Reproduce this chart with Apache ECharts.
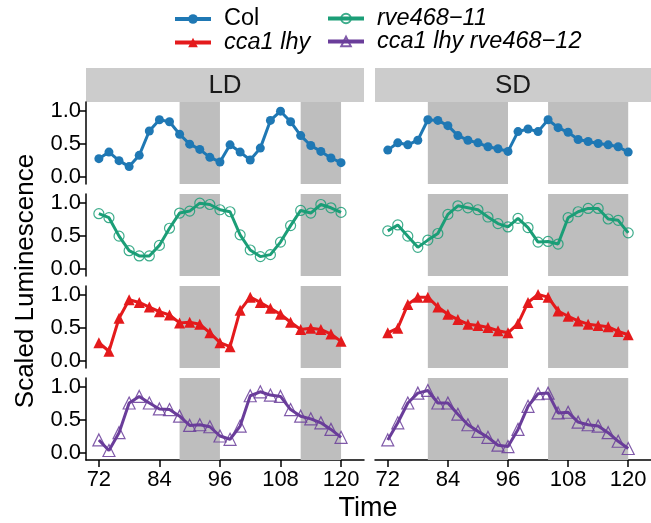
<!DOCTYPE html>
<html>
<head>
<meta charset="utf-8">
<script src="https://cdn.jsdelivr.net/npm/echarts@6/dist/echarts.min.js"></script>
<style>
  html, body { margin: 0; padding: 0; background: #fff; }
  #chart { width: 651px; height: 523px; }
</style>
</head>
<body>
<div id="chart"></div>
<script>
// sampling times (h)
const times = [72, 74, 76, 78, 80, 82, 84, 86, 88, 90, 92, 94, 96, 98, 100, 102, 104, 106, 108, 110, 112, 114, 116, 118, 120];
const xTicks = [72, 84, 96, 108, 120];
const yTicks = [0, 0.5, 1];
const conditions = ['LD', 'SD'];
const genotypes = ['Col', 'rve468\u221211', 'cca1 lhy', 'cca1 lhy rve468\u221212'];

// dark periods
const darkLD = [[88, 96], [112, 120]];
const darkSD = [[80, 96], [104, 120]];

// Col
const colLD = [0.27, 0.37, 0.24, 0.15, 0.32, 0.69, 0.86, 0.83, 0.64, 0.49, 0.41, 0.29, 0.22, 0.48, 0.37, 0.25, 0.43, 0.85, 0.99, 0.83, 0.62, 0.47, 0.38, 0.28, 0.21];
const colSD = [0.40, 0.51, 0.48, 0.55, 0.86, 0.85, 0.77, 0.62, 0.55, 0.51, 0.45, 0.42, 0.38, 0.68, 0.72, 0.68, 0.86, 0.74, 0.67, 0.56, 0.53, 0.50, 0.48, 0.45, 0.37];
// rve468-11
const rveLD = [0.83, 0.77, 0.49, 0.27, 0.19, 0.19, 0.35, 0.61, 0.84, 0.87, 0.99, 0.97, 0.89, 0.86, 0.51, 0.28, 0.18, 0.21, 0.40, 0.65, 0.88, 0.84, 0.97, 0.92, 0.85];
const rveSD = [0.57, 0.66, 0.49, 0.32, 0.43, 0.53, 0.82, 0.95, 0.92, 0.89, 0.78, 0.68, 0.63, 0.76, 0.62, 0.40, 0.41, 0.37, 0.77, 0.86, 0.91, 0.91, 0.75, 0.73, 0.54];
// cca1 lhy
const ccaLD = [0.27, 0.14, 0.64, 0.92, 0.88, 0.81, 0.74, 0.69, 0.57, 0.58, 0.55, 0.42, 0.27, 0.21, 0.76, 0.96, 0.88, 0.79, 0.70, 0.58, 0.47, 0.49, 0.47, 0.40, 0.29];
const ccaSD = [0.42, 0.49, 0.85, 0.96, 0.96, 0.81, 0.70, 0.62, 0.55, 0.53, 0.50, 0.45, 0.42, 0.56, 0.88, 1.00, 0.96, 0.75, 0.67, 0.60, 0.55, 0.53, 0.51, 0.44, 0.39];
// cca1 lhy rve468-12
const tripleLD = [0.19, 0.03, 0.30, 0.75, 0.85, 0.75, 0.66, 0.65, 0.55, 0.41, 0.42, 0.39, 0.25, 0.20, 0.40, 0.86, 0.92, 0.87, 0.85, 0.65, 0.55, 0.51, 0.45, 0.35, 0.23];
const tripleSD = [0.19, 0.45, 0.75, 0.90, 0.94, 0.75, 0.75, 0.58, 0.42, 0.32, 0.23, 0.11, 0.09, 0.35, 0.70, 0.89, 0.90, 0.60, 0.61, 0.46, 0.42, 0.40, 0.30, 0.17, 0.06];

const values = [[colLD, colSD], [rveLD, rveSD], [ccaLD, ccaSD], [tripleLD, tripleSD]];
const colors = ['#1f78b4', '#1b9e77', '#e41a1c', '#6a3d9a'];
const FONT = 'Liberation Sans, Arial, sans-serif';

let chart = echarts.init(document.getElementById('chart'));

let grids = [], xAxes = [], yAxes = [], series = [];
const colLeft = [86, 375];
const rowTop = [102, 194, 286, 378];

for (let r = 0; r < 4; r++) {
  for (let c = 0; c < 2; c++) {
    let g = grids.length;
    let bottomRow = r === 3;
    let leftCol = c === 0;
    grids.push({left: colLeft[c], top: rowTop[r], width: 278, height: 82});
    xAxes.push({
      type: 'value', gridIndex: g, min: 69.45, max: 124.55,
      splitLine: {show: false},
      axisLine: {show: bottomRow, onZero: false, lineStyle: {color: '#000', width: 1.5}},
      axisTick: {show: bottomRow, length: 7, customValues: xTicks, lineStyle: {color: '#000', width: 1.5}},
      axisLabel: {show: bottomRow, customValues: xTicks, color: '#000', fontSize: 22, fontFamily: FONT, margin: 9}
    });
    yAxes.push({
      type: 'value', gridIndex: g, min: -0.114, max: 1.129,
      splitLine: {show: false},
      axisLine: {show: leftCol, onZero: false, lineStyle: {color: '#000', width: 1.5}},
      axisTick: {show: leftCol, length: 7, customValues: yTicks, lineStyle: {color: '#000', width: 1.5}},
      axisLabel: {show: leftCol, customValues: yTicks, color: '#000', fontSize: 22, fontFamily: FONT, margin: 5,
        formatter: v => v.toFixed(1)}
    });

    // night shading
    let dark = c === 0 ? darkLD : darkSD;
    series.push({
      type: 'line', xAxisIndex: g, yAxisIndex: g, data: [], silent: true, z: 1,
      markArea: {
        silent: true,
        itemStyle: {color: '#bebebe'},
        data: dark.map(d => [{xAxis: d[0]}, {xAxis: d[1]}])
      }
    });

    let col = colors[r];
    let s = {
      name: genotypes[r], type: 'line', xAxisIndex: g, yAxisIndex: g, z: 3,
      data: times.map((t, i) => [t, values[r][c][i]]),
      lineStyle: {color: col, width: 3},
      color: col
    };
    if (r === 0) {
      s.symbol = 'circle'; s.symbolSize = 9;
      s.itemStyle = {color: col};
    } else if (r === 1) {
      s.symbol = 'circle'; s.symbolSize = 10;
      s.itemStyle = {color: 'rgba(0,0,0,0)', borderColor: col, borderWidth: 1.2, opacity: 0.85};
    } else if (r === 2) {
      s.symbol = 'triangle'; s.symbolSize = 11;
      s.itemStyle = {color: col};
    } else {
      s.symbol = 'triangle'; s.symbolSize = 12;
      s.itemStyle = {color: 'rgba(0,0,0,0)', borderColor: col, borderWidth: 1.2, opacity: 0.85};
    }
    series.push(s);
  }
}

const legendText = {
  fontSize: 23.5, color: '#000', fontFamily: FONT, padding: [0, 0, 0, 8],
  rich: {
    n: {fontSize: 23.5, fontFamily: FONT, color: '#000', lineHeight: 27},
    i: {fontSize: 23.5, fontFamily: FONT, color: '#000', fontStyle: 'italic', lineHeight: 27}
  }
};
const legendFmt = name => name === 'Col' ? '{n|Col}' : '{i|' + name + '}';
const legendBase = {
  orient: 'vertical', top: 7, padding: 0,
  itemWidth: 36, itemHeight: 12, itemGap: 0,
  lineStyle: {width: 4},
  textStyle: legendText, formatter: legendFmt
};

let option = {
  animation: false,
  backgroundColor: '#fff',
  grid: grids,
  xAxis: xAxes,
  yAxis: yAxes,
  legend: [
    Object.assign({data: [genotypes[0], genotypes[2]], left: 173}, legendBase),
    Object.assign({data: [genotypes[1], genotypes[3]], left: 326}, legendBase)
  ],
  graphic: [
    {type: 'rect', left: 86, top: 68, shape: {width: 278, height: 34}, style: {fill: '#cccccc'}, silent: true},
    {type: 'rect', left: 375, top: 68, shape: {width: 276, height: 34}, style: {fill: '#cccccc'}, silent: true},
    {type: 'text', x: 225, y: 86, style: {text: conditions[0], fontSize: 26, fontFamily: FONT, fill: '#1a1a1a', align: 'center', verticalAlign: 'middle'}},
    {type: 'text', x: 513, y: 86, style: {text: conditions[1], fontSize: 26, fontFamily: FONT, fill: '#1a1a1a', align: 'center', verticalAlign: 'middle'}},
    {type: 'text', x: 368, y: 509, style: {text: 'Time', fontSize: 27, fontFamily: FONT, fill: '#000', align: 'center', verticalAlign: 'middle'}},
    {type: 'text', x: 26, y: 281, rotation: Math.PI / 2, style: {text: 'Scaled Luminescence', fontSize: 26, fontFamily: FONT, fill: '#000', align: 'center', verticalAlign: 'middle'}}
  ],
  series: series
};

chart.setOption(option);
</script>
</body>
</html>
